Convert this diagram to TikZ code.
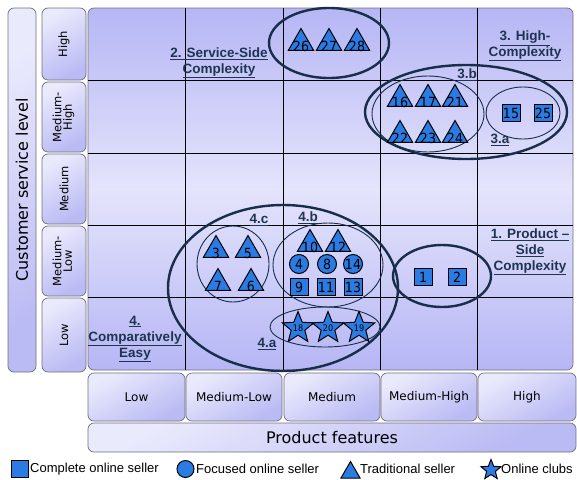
\documentclass[tikz,border=0pt]{standalone}
\usepackage{fontspec}
\setmainfont{Liberation Sans}
\newfontfamily\dvs{DejaVu Sans}
\newfontfamily\dvsc{DejaVu Sans Condensed}
\usetikzlibrary{shapes.geometric}
\definecolor{mk}{RGB}{42,124,228}
\definecolor{ell}{RGB}{24,46,74}
\definecolor{lbl}{RGB}{32,52,82}
\definecolor{gD}{RGB}{182,182,245}
\definecolor{gL}{RGB}{228,228,252}
\definecolor{bD}{RGB}{186,186,244}
\definecolor{bL}{RGB}{234,234,253}
\definecolor{bord}{RGB}{110,110,125}
\begin{document}
\begin{tikzpicture}[x=1pt,y=-1pt,
  lbox/.style={draw=bord, line width=0.7pt, rounded corners=6pt, shading=axis,
     top color=bL, bottom color=bD, shading angle=30, inner sep=0pt,
     font=\dvs\fontsize{12}{13}\selectfont},
  rowbox/.style={lbox, minimum width=44pt, font=\dvs\fontsize{11.5}{12.5}\selectfont},
  colbox/.style={lbox, minimum height=48pt},
  clab/.style={font=\bfseries\fontsize{13.5}{16}\selectfont, text=lbl, align=center, inner sep=0pt},
  bigell/.style={draw=ell, line width=2.4pt},
  thinell/.style={draw=ell, line width=0.9pt},
  mkr/.style={draw=black, line width=1pt, fill=mk, inner sep=0pt, font=\dvsc\fontsize{14}{14}\selectfont},
  sq/.style={mkr, minimum width=18pt, minimum height=17pt},
  ci/.style={mkr, circle, minimum size=19pt},
  tri/.style={mkr, regular polygon, regular polygon sides=3, minimum size=29pt},
  st/.style={mkr, star, star points=5, star point ratio=2.3, minimum size=33pt},
  tnum/.style={anchor=south, inner sep=0pt, yshift=-1pt, font=\dvsc\fontsize{14}{14}\selectfont},
  snum/.style={inner sep=0pt, font=\dvsc\fontsize{9}{9}\selectfont},
  leg/.style={anchor=west, inner sep=0pt, font=\fontsize{13}{13}\selectfont}
]
\useasboundingbox (0,0) rectangle (577,479);

% left axis bar
\node[lbox, minimum width=28pt, minimum height=364pt, font=\dvs\fontsize{16}{16}\selectfont] (yaxis) at (22,190)
  {\rotatebox{90}{Customer service level}};

% row labels
\node[rowbox, minimum height=72pt] (rH) at (64,44) {\rotatebox{90}{High}};
\node[rowbox, minimum height=70pt] (rMH) at (64,117) {\rotatebox{90}{\begin{tabular}{@{}c@{}}Medium-\\[-2pt]High\end{tabular}}};
\node[rowbox, minimum height=70pt] (rM) at (64,189) {\rotatebox{90}{Medium}};
\node[rowbox, minimum height=70pt] (rML) at (64,261) {\rotatebox{90}{\begin{tabular}{@{}c@{}}Medium-\\[-2pt]Low\end{tabular}}};
\node[rowbox, minimum height=74pt] (rL) at (64,335) {\rotatebox{90}{Low}};

% main grid
\shade[rounded corners=6pt, top color=gD, bottom color=gD, middle color=gL] (88,8) rectangle (573,370);
\draw[bord, line width=0.7pt, rounded corners=6pt] (88,8) rectangle (573,370);
\foreach \yy in {80,153,225,297} \draw[black, line width=0.8pt] (88,\yy) -- (573,\yy);
\foreach \xx in {185,283,380,477} \draw[black, line width=0.8pt] (\xx,8) -- (\xx,370);

% column labels
\node[colbox, minimum width=97pt] (cL) at (136.5,397) {Low};
\node[colbox, minimum width=96pt] (cML) at (234,397) {Medium-Low};
\node[colbox, minimum width=96pt] (cM) at (332,397) {Medium};
\node[colbox, minimum width=96pt] (cMH) at (429,397) {Medium-High};
\node[colbox, minimum width=98pt] (cH) at (527,397) {High};
\node[lbox, minimum width=488pt, minimum height=29pt, font=\dvs\fontsize{16}{16}\selectfont] (xaxis) at (332,437.5) {Product features};

% ellipses
\draw[bigell] (329,43) ellipse [x radius=60, y radius=35];
\draw[bigell] (466,112) ellipse [x radius=101, y radius=47];
\draw[thinell] (428,114) ellipse [x radius=56, y radius=38];
\draw[thinell] (523,113) ellipse [x radius=37, y radius=26];
\draw[bigell] (283,288) ellipse [x radius=115, y radius=83];
\draw[thinell] (233,264) ellipse [x radius=36, y radius=38];
\draw[thinell] (328,265) ellipse [x radius=55, y radius=42];
\draw[thinell] (325,327) ellipse [x radius=55, y radius=20];
\draw[bigell] (442,276) ellipse [x radius=49, y radius=31];

% triangles
\node[tri, label={[tnum]south:26}] (t26) at (301,43) {};
\node[tri, label={[tnum]south:27}] (t27) at (329,43) {};
\node[tri, label={[tnum]south:28}] (t28) at (357,43) {};
\node[tri, label={[tnum]south:16}] (t16) at (400,99) {};
\node[tri, label={[tnum]south:17}] (t17) at (428,99) {};
\node[tri, label={[tnum]south:21}] (t21) at (455,99) {};
\node[tri, label={[tnum]south:22}] (t22) at (400,135) {};
\node[tri, label={[tnum]south:23}] (t23) at (428,135) {};
\node[tri, label={[tnum]south:24}] (t24) at (455,135) {};
\node[tri, label={[tnum]south:3}] (t3) at (216,250) {};
\node[tri, label={[tnum]south:5}] (t5) at (248,250) {};
\node[tri, label={[tnum]south:7}] (t7) at (218,283) {};
\node[tri, label={[tnum]south:6}] (t6) at (251,283) {};
\node[tri, label={[tnum]south:10}] (t10) at (310,244) {};
\node[tri, label={[tnum]south:12}] (t12) at (338,244) {};

% squares
\node[sq] (s15) at (511,113) {15};
\node[sq] (s25) at (543,113) {25};
\node[sq] (s9) at (299,287) {9};
\node[sq] (s11) at (326,287) {11};
\node[sq] (s13) at (353,287) {13};
\node[sq] (s1) at (423,277) {1};
\node[sq] (s2) at (457,277) {2};

% circles
\node[ci] (c4) at (299,264) {4};
\node[ci] (c8) at (327,264) {8};
\node[ci] (c14) at (353,264) {14};

% stars
\node[st, label={[snum]center:18}] (st18) at (298,328) {};
\node[st, label={[snum]center:20}] (st20) at (328,328) {};
\node[st, label={[snum]center:19}] (st19) at (359,328) {};

% cluster labels
\node[clab] (l2) at (219,63) {\underline{2. Service-Side}\\\underline{Complexity}};
\node[clab] (l3) at (525,46) {\underline{3. High-}\\\underline{Complexity}};
\node[clab] (l3b) at (467,75) {\underline{3.b}};
\node[clab] (l3a) at (500,140) {\underline{3.a}};
\node[clab] (l1) at (530,252) {\underline{1. Product --}\\\underline{Side}\\\underline{Complexity}};
\node[clab] (l4c) at (259,220) {\underline{4.c}};
\node[clab] (l4b) at (308,218) {\underline{4.b}};
\node[clab] (l4a) at (267,344) {\underline{4.a}};
\node[clab] (l4) at (135,339) {\underline{4.}\\\underline{Comparatively}\\\underline{Easy}};

% legend
\node[draw=black, line width=1pt, fill=mk, minimum width=17pt, minimum height=17pt, inner sep=0pt] (lgsq) at (20,469) {};
\node[leg] (lgsqt) at (30,469) {Complete online seller};
\node[draw=black, line width=1pt, fill=mk, circle, minimum size=17pt, inner sep=0pt] (lgci) at (185.5,469) {};
\node[leg] (lgcit) at (196,469) {Focused online seller};
\node[draw=black, line width=1pt, fill=mk, regular polygon, regular polygon sides=3, minimum size=22pt, inner sep=0pt] (lgtr) at (350.5,472.5) {};
\node[leg] (lgtrt) at (360,469) {Traditional seller};
\node[draw=black, line width=1pt, fill=mk, star, star points=5, star point ratio=2.3, minimum size=21pt, inner sep=0pt] (lgst) at (491,470) {};
\node[leg] (lgstt) at (501,469) {Online clubs};
\end{tikzpicture}
\end{document}
